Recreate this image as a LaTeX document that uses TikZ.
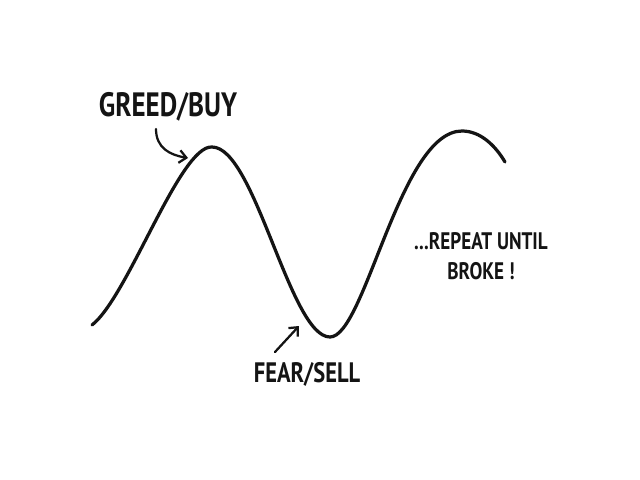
\documentclass[tikz,border=0pt]{standalone}
\usepackage{fontspec}
\usepackage{tikz}
\usetikzlibrary{arrows.meta}
\newfontfamily\handfont[FakeStretch=0.8]{PT Sans}
\definecolor{inkblack}{rgb}{0.08, 0.08, 0.08}

\begin{document}
\begin{tikzpicture}[x=0.025cm, y=-0.025cm]
    \useasboundingbox[fill=white] (0, 0) rectangle (640, 480);

    % Wave
    \coordinate (start) at (92, 325);
    \coordinate (peakA) at (212, 147);
    \coordinate (trough) at (330, 337);
    \coordinate (peakB) at (462, 131);
    \coordinate (finish) at (505, 162);
    \draw[draw=inkblack, line width=2.3pt, line cap=round]
        (start) .. controls (128, 297) and (180, 145) .. (peakA)
        .. controls (255, 147) and (290, 337) .. (trough)
        .. controls (365, 337) and (400, 131) .. (peakB)
        .. controls (480, 131) and (495, 145) .. (finish);

    % Labels
    \node[text=inkblack, font=\handfont\bfseries\fontsize{24}{26}\selectfont] (greed) at (168, 107) {GREED/BUY};
    \node[text=inkblack, font=\handfont\bfseries\fontsize{20}{22}\selectfont] (fear) at (307, 374) {FEAR/SELL};
    \node[text=inkblack, align=center, font=\handfont\bfseries\fontsize{17}{21}\selectfont] (repeat) at (481, 256) {...REPEAT UNTIL\\BROKE !};

    % Arrows
    \coordinate (greedtail) at (156, 129);
    \coordinate (greedtip) at (188, 158);
    \draw[-{Straight Barb[length=5pt, width=9pt]}, draw=inkblack, line width=1.6pt, line cap=round]
        (greedtail) .. controls (156, 148) and (170, 155) .. (greedtip);

    \coordinate (feartail) at (275, 352);
    \coordinate (feartip) at (299, 326);
    \draw[-{Straight Barb[length=5pt, width=9pt]}, draw=inkblack, line width=1.6pt, line cap=round]
        (feartail) -- (feartip);
\end{tikzpicture}
\end{document}
